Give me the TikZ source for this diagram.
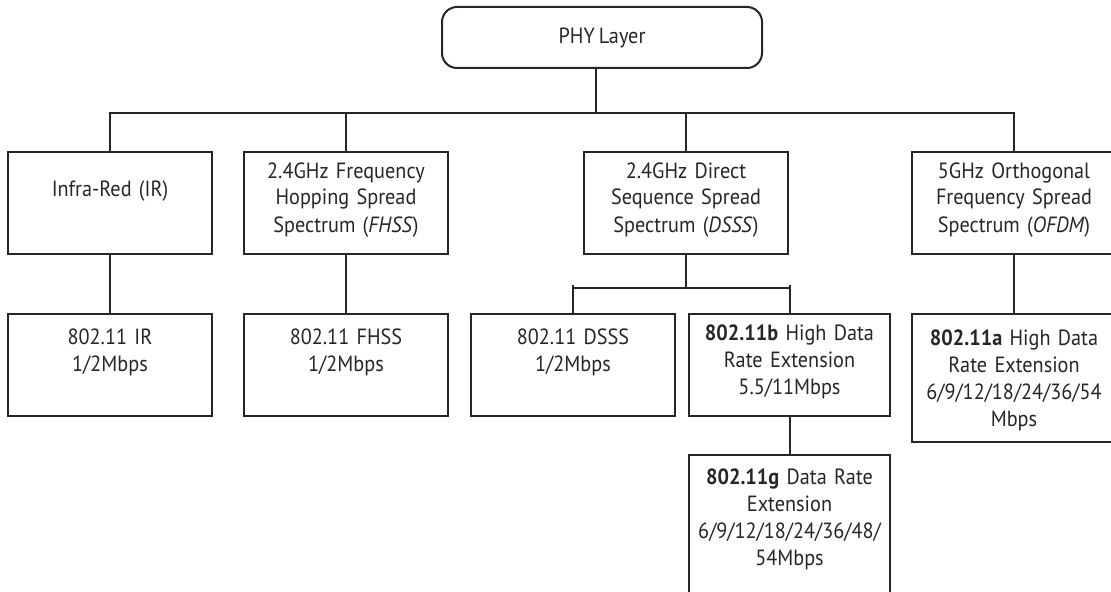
\documentclass[tikz,border=0pt]{standalone}
\usepackage{fontspec}
\setmainfont{PT Sans}[FakeStretch=0.92, WordSpace=0.75]
\definecolor{ink}{HTML}{262626}
\tikzset{
  wire/.style={draw=ink, line width=1.5pt},
  boxnode/.style={draw=ink, line width=1.5pt, anchor=north, align=center,
    inner xsep=-7.5pt, inner ysep=0pt, text width=168pt,
    minimum width=153pt, minimum height=76.5pt,
    font=\fontsize{16.5pt}{20.25pt}\selectfont, text=ink},
  narrowbox/.style={text width=165.75pt, minimum width=150.75pt},
  threeline/.style={text height=19.5pt, text depth=57pt},
  twoline/.style={text height=22.5pt, text depth=54pt},
}
\begin{document}
\begin{tikzpicture}[x=0.75pt, y=-0.75pt]
\useasboundingbox (0,0) rectangle (1111,592);
\clip (0,0) rectangle (1111,592);

% root
\node[draw=ink, line width=1.5pt, rounded corners=11.25pt,
      minimum width=240pt, minimum height=45.75pt, inner sep=0pt,
      font=\fontsize{16.5pt}{20.25pt}\selectfont, text=ink]
  (phy) at (602,37.5) {PHY Layer\hspace{7pt}};

% first level: transmission techniques
\node[boxnode, text height=33pt, text depth=43.5pt] (ir) at (110,151) {Infra-Red (IR)};
\node[boxnode, threeline] (fhss) at (346,151)
  {2.4GHz Frequency\\Hopping Spread\\Spectrum (\textit{FHSS})};
\node[boxnode, threeline] (dsss) at (686,151)
  {2.4GHz Direct\\Sequence Spread\\Spectrum (\textit{DSSS})};
\node[boxnode, threeline] (ofdm) at (1014,151)
  {5GHz Orthogonal\\Frequency Spread\\Spectrum (\textit{OFDM})};

% second level: standards and rates
\node[boxnode, twoline] (irb) at (110,313) {802.11 IR\\1/2Mbps};
\node[boxnode, twoline] (fhssb) at (346,313) {802.11 FHSS\\1/2Mbps};
\node[boxnode, twoline] (dsssb) at (573,313) {802.11 DSSS\\1/2Mbps};
\node[boxnode, narrowbox, threeline] (hrb) at (789.5,313)
  {\textbf{802.11b} High Data\\Rate Extension\\5.5/11Mbps};
\node[boxnode, text height=23.25pt, text depth=72.75pt] (ofdmb) at (1014,313)
  {\textbf{802.11a} High Data\\Rate Extension\\6/9/12/18/24/36/54\\Mbps};
\node[boxnode, narrowbox, text height=21.75pt, text depth=87.75pt] (erg) at (789.5,454)
  {\textbf{802.11g} Data Rate\\Extension\\6/9/12/18/24/36/48/\\54Mbps};

% bus lines
\coordinate (bus) at (0,113);
\coordinate (sub) at (0,288);
\coordinate (tick) at (0,285);

\draw[wire] ([xshift=-4.5pt]phy.south) -- ([xshift=-4.5pt]phy.south |- bus);
\draw[wire] (ir.north) -- (ir.north |- bus) -- (ofdm.north |- bus) -- (ofdm.north);
\draw[wire] (fhss.north |- bus) -- (fhss.north);
\draw[wire] (dsss.north |- bus) -- (dsss.north);

\draw[wire] (ir.south) -- (irb.north);
\draw[wire] (fhss.south) -- (fhssb.north);
\draw[wire] (ofdm.south) -- (ofdmb.north);

\draw[wire] (dsss.south) -- (dsss.south |- sub);
\draw[wire] (dsssb.north |- sub) -- (hrb.north |- sub);
\draw[wire] (dsssb.north |- tick) -- (dsssb.north);
\draw[wire] (hrb.north |- tick) -- (hrb.north);

\draw[wire] (hrb.south) -- (erg.north);
\end{tikzpicture}
\end{document}
